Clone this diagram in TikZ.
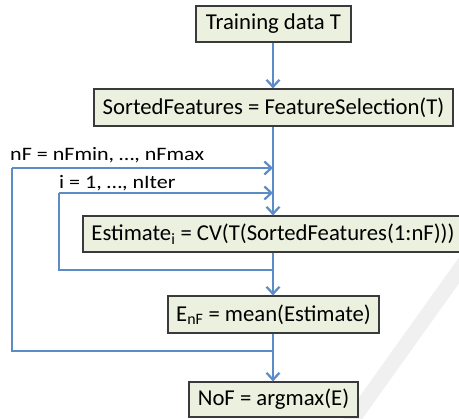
\documentclass[tikz,border=0pt]{standalone}
\usepackage{fontspec}
\setmainfont{Carlito}
\usetikzlibrary{arrows.meta}
\definecolor{boxfill}{HTML}{EBF1DE}
\definecolor{boxline}{HTML}{3A3A3A}
\definecolor{flow}{HTML}{5B8CC8}
\tikzset{
  x=1pt, y=-1pt,
  box/.style={draw=boxline, line width=1.2pt, fill=boxfill, inner sep=0pt,
    font=\fontsize{22.7}{26}\selectfont, text=black, anchor=center},
  flowline/.style={draw=flow, line width=2.5pt},
  flowarrow/.style={flowline, -{Straight Barb[length=7pt, width=13pt, line width=2.2pt]}},
  looplabel/.style={font=\fontsize{19}{22}\selectfont, anchor=base west, inner sep=0pt, text=black}
}
\begin{document}
\begin{tikzpicture}
\clip (0,0) rectangle (459,419);
\fill[white] (0,0) rectangle (459,419);
% faint watermark stripe
\draw[gray!12, line width=15pt] (470,255) -- (345,430);

\node[box, minimum width=155pt, minimum height=36pt] (train) at (273.5,24) {Training data T};
\node[box, minimum width=359pt, minimum height=37pt] (sorted) at (273.5,107.5) {SortedFeatures = FeatureSelection(T)};
\node[box, minimum width=380pt, minimum height=36pt] (est) at (273,234) {Estimate\textsubscript{i} = CV(T(SortedFeatures(1:nF)))};
\node[box, minimum width=211pt, minimum height=37pt] (enf) at (273.5,314.5) {E\textsubscript{nF} = mean(Estimate)};
\node[box, minimum width=169pt, minimum height=35pt] (nof) at (273.5,399.5) {NoF = argmax(E)};

\node[looplabel] (lnf) at (10,161) {\scalebox{1.16}[1]{nF = nFmin, …, nFmax}};
\node[looplabel] (li) at (59,189) {\scalebox{1.16}[1]{i = 1, …, nIter}};

\coordinate (nfin) at (273,168);
\coordinate (iin) at (273,193);
\coordinate (iout) at (273,270);
\coordinate (nfout) at (273,351);

\draw[flowarrow] (train.south -| nfin) -- (sorted.north -| nfin);
\draw[flowarrow] (sorted.south -| nfin) -- (est.north -| nfin);
\draw[flowarrow] (est.south -| nfin) -- (enf.north -| nfin);
\draw[flowarrow] (enf.south -| nfin) -- (nof.north -| nfin);

\draw[flowline] (iout) -- (59,270) -- (59,193);
\draw[flowarrow] (59,193) -- (iin);
\draw[flowline] (nfout) -- (12,351) -- (12,168);
\draw[flowarrow] (12,168) -- (nfin);
\end{tikzpicture}
\end{document}
